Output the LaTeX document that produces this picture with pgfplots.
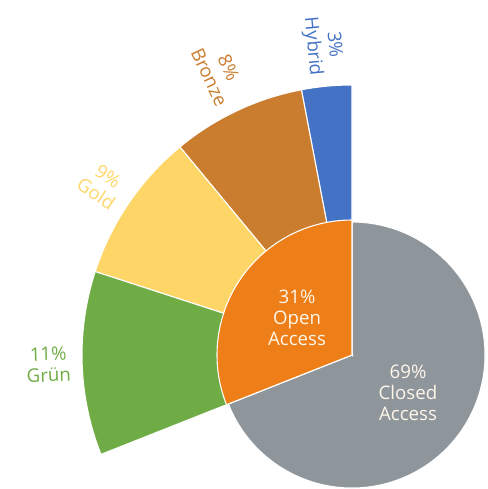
\documentclass[border=0pt]{standalone}
\usepackage{pgfplots}
\pgfplotsset{compat=1.18}
\usepackage{pgfplotstable}
\usepackage{fontspec}
\setmainfont{Open Sans}
\definecolor{cgrey}{HTML}{8E969C}
\definecolor{corange}{HTML}{EE7E17}
\definecolor{cgreen}{HTML}{6FAC46}
\definecolor{cgold}{HTML}{FED668}
\definecolor{cbronze}{HTML}{CB7D2F}
\definecolor{cblue}{HTML}{4472C4}
\definecolor{ctxt}{HTML}{FFF6EA}
\pgfplotstableread{
share value
Closed 69
Open 31
Hybrid 3
Bronze 8
Gold 9
Gruen 11
}\shares
\pgfplotstablegetelem{0}{value}\of\shares \let\vClosed\pgfplotsretval
\pgfplotstablegetelem{1}{value}\of\shares \let\vOpen\pgfplotsretval
\pgfplotstablegetelem{2}{value}\of\shares \let\vHyb\pgfplotsretval
\pgfplotstablegetelem{3}{value}\of\shares \let\vBro\pgfplotsretval
\pgfplotstablegetelem{4}{value}\of\shares \let\vGol\pgfplotsretval
\pgfplotstablegetelem{5}{value}\of\shares \let\vGru\pgfplotsretval
\pgfmathsetmacro\aO{90}
\pgfmathsetmacro\aA{\aO+3.6*\vHyb}
\pgfmathsetmacro\aB{\aA+3.6*\vBro}
\pgfmathsetmacro\aC{\aB+3.6*\vGol}
\pgfmathsetmacro\aD{\aC+3.6*\vGru}
\pgfmathsetmacro\aE{\aO+3.6*\vOpen}
\pgfmathsetmacro\aF{\aE+3.6*\vClosed}
\pgfmathsetmacro\mA{(\aO+\aA)/2}
\pgfmathsetmacro\mB{(\aA+\aB)/2}
\pgfmathsetmacro\mC{(\aB+\aC)/2}
\pgfmathsetmacro\mD{(\aC+\aD)/2}
\newcommand\slice[4]{%
  \fill[#1, draw=white, line width=0.8pt] (axis cs:0,0) -- (axis cs:{#4*cos(#2)},{#4*sin(#2)})
    arc[start angle=#2, end angle=#3, radius=#4*0.75pt] -- cycle;}
\newcommand\olabel[4]{% color, mid angle, text, radius
  \node[text=#1, rotate=#2-180, anchor=east, align=center, inner sep=1pt,
        font=\fontsize{14}{16}\selectfont]
    at (axis cs:{#4*cos(#2)},{#4*sin(#2)}) {#3};}
\begin{document}
\begin{tikzpicture}
\begin{axis}[x=0.75pt, y=0.75pt, xmin=-352, xmax=135, ymin=-134, ymax=355,
  hide axis, clip=false, scale only axis]
\coordinate (bl) at (rel axis cs:0,0);
\coordinate (tr) at (rel axis cs:1,1);
\slice{cgrey}{\aE}{\aF}{133}
\slice{cblue}{\aO}{\aA}{270}
\slice{cbronze}{\aA}{\aB}{270}
\slice{cgold}{\aB}{\aC}{270}
\slice{cgreen}{\aC}{\aD}{270}
\slice{corange}{\aO}{\aE}{135}
\olabel{cblue}{\mA}{3\%\\Hybrid}{280}
\olabel{cbronze}{\mB}{8\%\\Bronze}{280}
\olabel{cgold}{\mC}{9\%\\Gold}{280}
\olabel{cgreen}{\mD}{11\%\\Grün}{280}
\node[text=ctxt, align=center, font=\fontsize{14}{16}\selectfont] at (axis cs:-55,37) {31\%\\Open\\Access};
\node[text=ctxt, align=center, font=\fontsize{14}{16}\selectfont] at (axis cs:56,-38) {69\%\\Closed\\Access};
\end{axis}
\pgfresetboundingbox
\path (bl) rectangle (tr);
\end{tikzpicture}
\end{document}
